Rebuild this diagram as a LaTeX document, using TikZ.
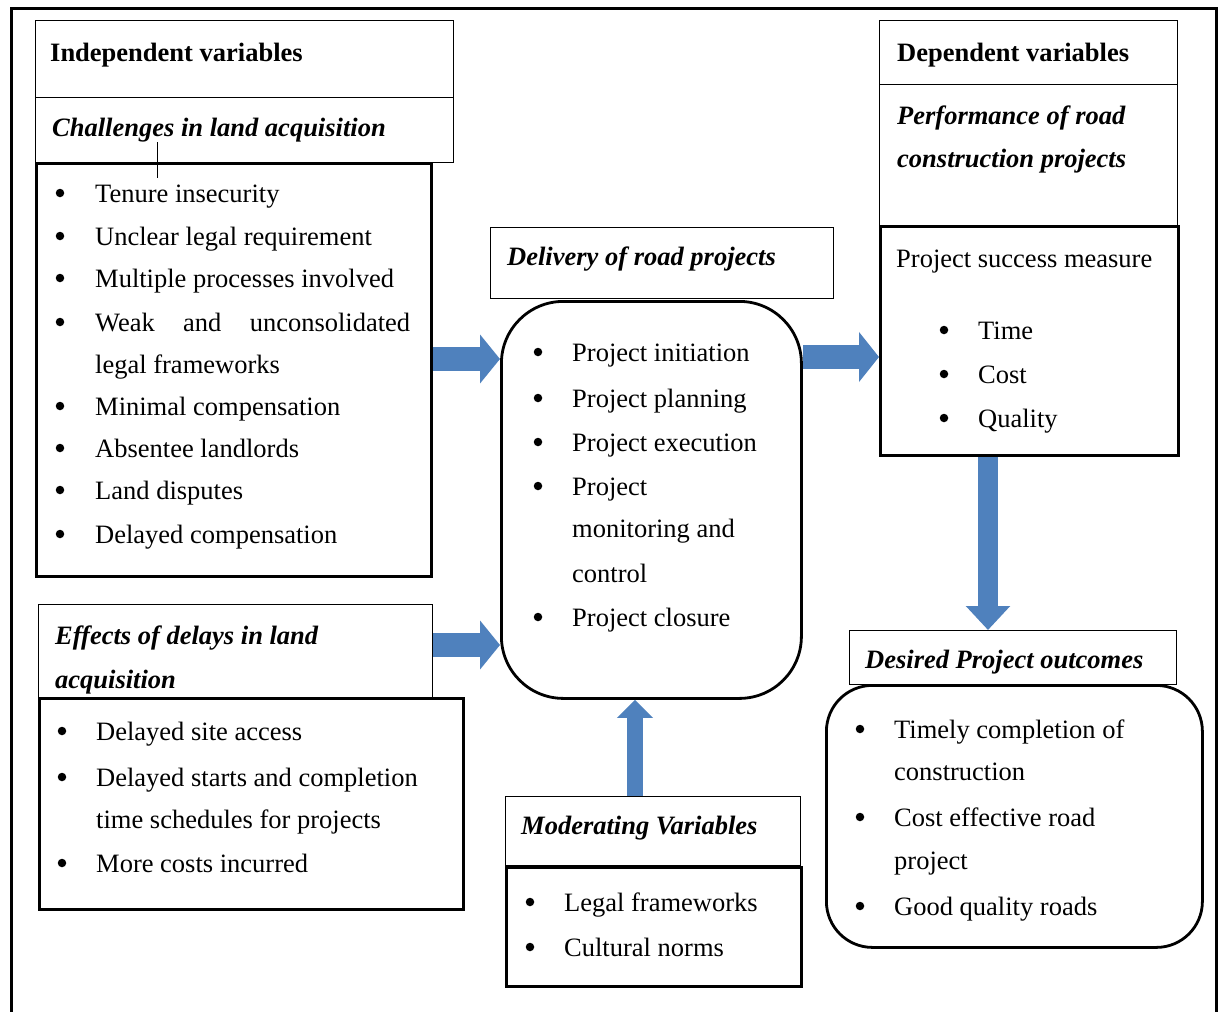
\documentclass[tikz,border=0pt]{standalone}
\usepackage{fontspec}
\setmainfont{Liberation Serif}
\usetikzlibrary{arrows.meta}
\definecolor{arrowblue}{HTML}{4F81BD}
\tikzset{
  thinbox/.style={draw, line width=1.3pt, fill=white, inner sep=0pt, anchor=north west},
  thickbox/.style={draw, line width=2.8pt, fill=white, inner sep=0pt, anchor=north west},
  txt/.style={anchor=base west, inner sep=0pt, font=\fontsize{26.5}{30}\selectfont},
  hdr/.style={txt, font=\fontsize{26.5}{30}\selectfont\bfseries},
  ihdr/.style={txt, font=\fontsize{26.5}{30}\selectfont\bfseries\itshape},
  bul/.style={circle, fill=black, inner sep=0pt, minimum size=8.5pt, yshift=9pt},
}
\begin{document}
\begin{tikzpicture}[x=1pt,y=-1pt]
\useasboundingbox[fill=white] (0,0) rectangle (1224,1012);
% outer frame
\coordinate (f1) at (11,1014);
\coordinate (f2) at (11,8);
\coordinate (f3) at (1216,8);
\coordinate (f4) at (1216,1014);
\draw[line width=3pt] (f1) -- (f2) -- (f3) -- (f4);

% ---------- Independent variables ----------
\node[thinbox, minimum width=418pt, minimum height=77pt] (A) at (35,20) {};
\node[thinbox, minimum width=418pt, minimum height=65pt] (B) at (35,97) {};
\node[thickbox, minimum width=395pt, minimum height=413pt] (C) at (35,162) {};
\node[hdr] (At) at (50,61) {Independent variables};
\node[ihdr] (Bt) at (52,136) {Challenges in land acquisition};
\coordinate (s1) at (157,142);
\coordinate (s2) at (157,178);
\draw[line width=1pt] (s1) -- (s2);

\node[bul] (cb1) at (60,202) {}; \node[txt] (c1) at (95,202) {Tenure insecurity};
\node[bul] (cb2) at (60,245) {}; \node[txt] (c2) at (95,245) {Unclear legal requirement};
\node[bul] (cb3) at (60,287) {}; \node[txt] (c3) at (95,287) {Multiple processes involved};
\node[bul] (cb4) at (60,331) {}; \node[txt] (c4) at (95,331) {\makebox[315pt][s]{Weak and unconsolidated}};
\node[txt] (c4b) at (95,373) {legal frameworks};
\node[bul] (cb5) at (60,415) {}; \node[txt] (c5) at (95,415) {Minimal compensation};
\node[bul] (cb6) at (60,457) {}; \node[txt] (c6) at (95,457) {Absentee landlords};
\node[bul] (cb7) at (60,499) {}; \node[txt] (c7) at (95,499) {Land disputes};
\node[bul] (cb8) at (60,543) {}; \node[txt] (c8) at (95,543) {Delayed compensation};

% ---------- Effects of delays ----------
\node[thinbox, minimum width=394pt, minimum height=93pt] (EH) at (38,604) {};
\node[ihdr] (EHt1) at (55,644) {Effects of delays in land};
\node[ihdr] (EHt2) at (55,688) {acquisition};
\node[thickbox, minimum width=424pt, minimum height=211pt] (E) at (38,697) {};
\node[bul] (eb1) at (62,740) {}; \node[txt] (e1) at (96,740) {Delayed site access};
\node[bul] (eb2) at (62,786) {}; \node[txt] (e2) at (96,786) {Delayed starts and completion};
\node[txt] (e2b) at (96,828) {time schedules for projects};
\node[bul] (eb3) at (62,872) {}; \node[txt] (e3) at (96,872) {More costs incurred};

% ---------- Delivery of road projects ----------
\node[thinbox, minimum width=343pt, minimum height=71pt] (DH) at (490,227) {};
\node[ihdr] (DHt) at (507,265) {Delivery of road projects};
\node[thickbox, rounded corners=62pt, minimum width=300pt, minimum height=397pt] (D) at (500,300) {};
\node[bul] (db1) at (538,361) {}; \node[txt] (d1) at (572,361) {Project initiation};
\node[bul] (db2) at (538,407) {}; \node[txt] (d2) at (572,407) {Project planning};
\node[bul] (db3) at (538,451) {}; \node[txt] (d3) at (572,451) {Project execution};
\node[bul] (db4) at (538,495) {}; \node[txt] (d4) at (572,495) {Project};
\node[txt] (d4b) at (572,537) {monitoring and};
\node[txt] (d4c) at (572,582) {control};
\node[bul] (db5) at (538,626) {}; \node[txt] (d5) at (572,626) {Project closure};

% ---------- Moderating variables ----------
\node[thinbox, minimum width=295pt, minimum height=69pt] (MH) at (505,796) {};
\node[ihdr] (MHt) at (521,834) {Moderating Variables};
\node[thickbox, minimum width=295pt, minimum height=119pt] (M) at (505,866) {};
\node[bul] (mb1) at (530,911) {}; \node[txt] (m1) at (564,911) {Legal frameworks};
\node[bul] (mb2) at (530,956) {}; \node[txt] (m2) at (564,956) {Cultural norms};

% ---------- Dependent variables ----------
\node[thinbox, minimum width=298pt, minimum height=64pt] (PA) at (879,20) {};
\node[thinbox, minimum width=298pt, minimum height=141pt] (PB) at (879,84) {};
\node[thickbox, minimum width=298pt, minimum height=229pt] (PC) at (879,225) {};
\node[hdr] (PAt) at (897,61) {Dependent variables};
\node[ihdr] (PBt1) at (897,124) {Performance of road};
\node[ihdr] (PBt2) at (897,167) {construction projects};
\node[txt] (PCt) at (896,267) {Project success measure};
\node[bul] (pb1) at (944,339) {}; \node[txt] (p1) at (978,339) {Time};
\node[bul] (pb2) at (944,383) {}; \node[txt] (p2) at (978,383) {Cost};
\node[bul] (pb3) at (944,427) {}; \node[txt] (p3) at (978,427) {Quality};

% ---------- Desired outcomes ----------
\node[thinbox, minimum width=327pt, minimum height=54pt] (OH) at (849,630) {};
\node[ihdr] (OHt) at (865,668) {Desired Project outcomes};
\node[thickbox, rounded corners=46pt, minimum width=376pt, minimum height=262pt] (O) at (825,684) {};
\node[bul] (ob1) at (860,738) {}; \node[txt] (o1) at (894,738) {Timely completion of};
\node[txt] (o1b) at (894,780) {construction};
\node[bul] (ob2) at (860,826) {}; \node[txt] (o2) at (894,826) {Cost effective road};
\node[txt] (o2b) at (894,869) {project};
\node[bul] (ob3) at (860,915) {}; \node[txt] (o3) at (894,915) {Good quality roads};

% ---------- Arrows ----------
\coordinate (y1) at (0,359);
\coordinate (y2) at (0,357);
\coordinate (y3) at (0,645);
\coordinate (x4) at (635,0);
\coordinate (x5) at (988,0);
\draw[arrowblue, line width=24pt, -{Triangle[width=48pt,length=20pt]}] (C.east |- y1) -- (D.west |- y1);
\draw[arrowblue, line width=24pt, -{Triangle[width=49pt,length=20pt]}] (D.east |- y2) -- (PC.west |- y2);
\draw[arrowblue, line width=24pt, -{Triangle[width=48pt,length=20pt]}] (EH.east |- y3) -- (D.west |- y3);
\draw[arrowblue, line width=16pt, -{Triangle[width=35pt,length=18pt]}] (MH.north -| x4) -- (D.south -| x4);
\draw[arrowblue, line width=20pt, -{Triangle[width=43pt,length=24pt]}] (PC.south -| x5) -- (OH.north -| x5);
\end{tikzpicture}
\end{document}
